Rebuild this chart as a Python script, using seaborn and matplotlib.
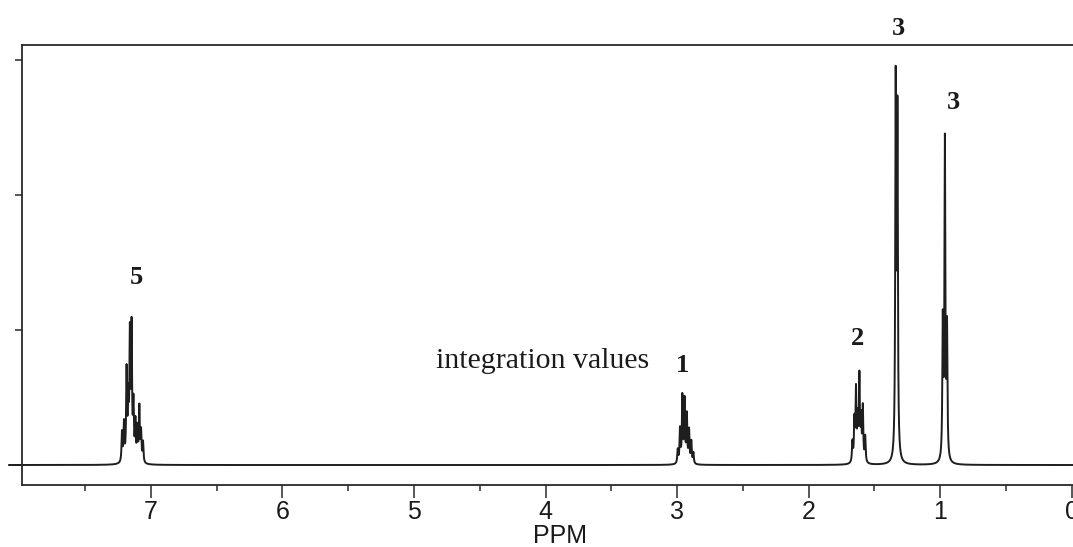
import numpy as np
import pandas as pd
import matplotlib.pyplot as plt
import seaborn as sns

# Peak lines: position (ppm) and height (relative units)
aromatic_ppm = [7.220, 7.205, 7.185, 7.172, 7.160, 7.147, 7.133, 7.118, 7.103, 7.088, 7.075, 7.060]
aromatic_h = [0.22, 0.28, 0.66, 0.42, 0.90, 0.96, 0.40, 0.28, 0.24, 0.40, 0.22, 0.15]

ch_ppm = [2.995, 2.978, 2.960, 2.943, 2.926, 2.909, 2.892, 2.876]
ch_h = [0.10, 0.25, 0.49, 0.46, 0.35, 0.24, 0.16, 0.08]

ch2_ppm = [1.667, 1.652, 1.640, 1.627, 1.614, 1.601, 1.588, 1.570]
ch2_h = [0.15, 0.30, 0.52, 0.30, 0.62, 0.30, 0.40, 0.19]

ch3_d_ppm = [1.338, 1.325]
ch3_d_h = [2.74, 2.50]

ch3_t_ppm = [0.980, 0.964, 0.948]
ch3_t_h = [1.00, 2.34, 0.95]

# integration labels: text, ppm, height
labels = ['5', '1', '2', '3', '3']
label_ppm = [7.11, 2.955, 1.625, 1.32, 0.902]
label_y = [1.34, 0.69, 0.89, 3.185, 2.64]

x_ticks_major = [0, 1, 2, 3, 4, 5, 6, 7]

# build the trace from the line list (lorentzian lines)
centers = np.array(aromatic_ppm + ch_ppm + ch2_ppm + ch3_d_ppm + ch3_t_ppm)
heights = np.array(aromatic_h + ch_h + ch2_h + ch3_d_h + ch3_t_h)
gamma = 0.004
ppm = np.arange(8.08, -0.3, -0.0005)
inten = (heights[None, :] * gamma**2 /
         ((ppm[:, None] - centers[None, :])**2 + gamma**2)).sum(axis=1)
df = pd.DataFrame({'ppm': ppm, 'intensity': inten})

sns.set_theme(style="ticks")
plt.rcParams['font.family'] = ['Liberation Sans', 'DejaVu Sans']

fig = plt.figure(figsize=(10.73, 5.47), dpi=100)
ax = fig.add_axes([22 / 1073, 62 / 547, 1076 / 1073, 440 / 547])

sns.lineplot(data=df, x='ppm', y='intensity', ax=ax, color='#1e1e1e',
             linewidth=1.4, estimator=None, sort=False)
ax.lines[0].set_clip_on(False)

ax.set_xlim(7.98, -0.2)
ax.set_ylim(-0.148, 3.111)

ax.set_xticks(x_ticks_major)
ax.set_xticks(np.arange(0.5, 8, 1.0), minor=True)
ax.set_xticklabels([str(t) for t in x_ticks_major], fontsize=18, color='#1a1a1a')
ax.set_yticks([0, 1, 2, 3])
ax.set_yticklabels([])
ax.tick_params(axis='x', which='major', direction='out', length=9, width=1.1,
               pad=1.5, color='#2a2a2a')
ax.tick_params(axis='x', which='minor', direction='out', length=4.5, width=1.1,
               color='#2a2a2a')
ax.tick_params(axis='y', direction='out', length=5, width=1.1, color='#2a2a2a')

for side in ['left', 'top', 'bottom']:
    ax.spines[side].set_linewidth(1.3)
    ax.spines[side].set_color('#2a2a2a')
ax.spines['right'].set_visible(False)

ax.set_xlabel('PPM', fontsize=18, labelpad=0, color='#1a1a1a')
ax.set_ylabel('')

for t, xp, yp in zip(labels, label_ppm, label_y):
    ax.text(xp, yp, t, ha='center', va='baseline', fontsize=19,
            fontweight='bold', family=['Liberation Serif', 'DejaVu Serif'],
            color='#1a1a1a')

ax.text(4.025, 0.72, 'integration values', ha='center', va='baseline',
        fontsize=21.5, family=['Liberation Serif', 'DejaVu Serif'], color='#1a1a1a')

fig.savefig('out.png', dpi=100)
